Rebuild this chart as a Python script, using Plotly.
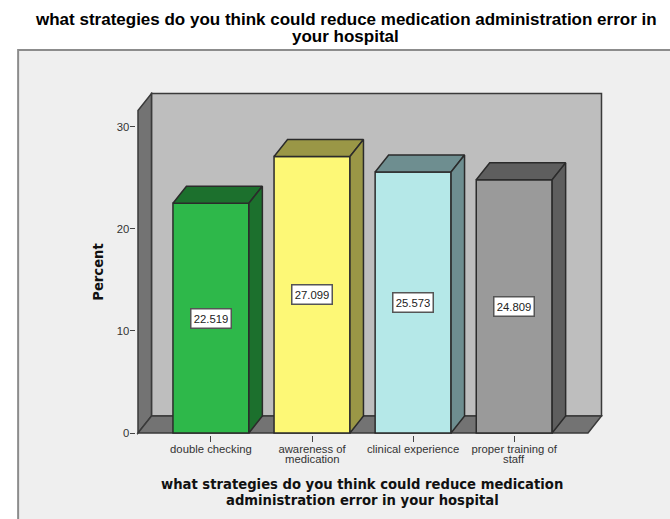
import plotly.graph_objects as go

# Chart data
categories = ["double checking", "awareness of", "clinical experience", "proper training of"]
category_second_lines = ["", "medication", "", "staff"]
percent = [22.519, 27.099, 25.573, 24.809]
y_ticks = [0, 10, 20, 30]

# Colours: bar front, bar side/top
front_colors = ["#2EB84A", "#FDF876", "#B5E8E8", "#9A9A9A"]
side_colors = ["#1C702D", "#9A9746", "#6E8E90", "#5E5E5E"]
EDGE = "#2B2B2B"
WALL_BACK = "#BEBEBE"
WALL_DARK = "#737373"
PANEL = "#EFEFEF"

W, H = 670, 519
# Plot area in pixels
LEFT, RIGHT, TOP, BOTTOM = 135.5, 603.0, 91.5, 435.0
# Scale of the axes
X0_PX, X_UNIT = 210.5, 101.2
Y0_PX, Y_UNIT = 433.0, 10.22
BAR_WIDTH = 0.751
# Oblique depth of the 3D projection, in axis units
DX, DY = 13.5 / X_UNIT, 17.0 / Y_UNIT
# Front-left and front-right floor corners, and height of the side wall
XL, XR = (137.5 - X0_PX) / X_UNIT, (588.0 - X0_PX) / X_UNIT
YTOP = (433.0 - 110.0) / Y_UNIT

def poly(points):
    return "M" + " L".join(f"{x:.4f},{y:.4f}" for x, y in points) + " Z"

def paper_x(px):
    return (px - LEFT) / (RIGHT - LEFT)

def paper_y(px):
    return (BOTTOM - px) / (BOTTOM - TOP)

fig = go.Figure()
xs = list(range(len(categories)))

# Front faces of the columns
fig.add_trace(go.Bar(
    x=xs, y=percent, width=BAR_WIDTH,
    marker=dict(color=front_colors, line=dict(color=EDGE, width=1.5)),
    hoverinfo="skip", showlegend=False,
))

# Top and side faces of the columns
for x, v, color in zip(xs, percent, side_colors):
    a, b = x - BAR_WIDTH / 2, x + BAR_WIDTH / 2
    fig.add_trace(go.Scatter(
        x=[a, b, b + DX, a + DX, a], y=[v, v, v + DY, v + DY, v],
        mode="lines", fill="toself", fillcolor=color,
        line=dict(color=EDGE, width=1.5), hoverinfo="skip", showlegend=False,
    ))
    fig.add_trace(go.Scatter(
        x=[b, b + DX, b + DX, b, b], y=[0, DY, v + DY, v, 0],
        mode="lines", fill="toself", fillcolor=color,
        line=dict(color=EDGE, width=1.5), hoverinfo="skip", showlegend=False,
    ))

wall_line = dict(color="#3A3A3A", width=1.5)
shapes = [
    # Grey panel behind the chart
    dict(type="rect", xref="paper", yref="paper", layer="below",
         x0=paper_x(17.5), x1=paper_x(700), y0=paper_y(540), y1=paper_y(49.5),
         fillcolor=PANEL, line=dict(color="#8C8C8C", width=2)),
    # Back wall, side wall and floor
    dict(type="path", layer="below", fillcolor=WALL_BACK, line=wall_line,
         path=poly([(XL + DX, DY), (XR + DX, DY), (XR + DX, YTOP + DY), (XL + DX, YTOP + DY)])),
    dict(type="path", layer="below", fillcolor=WALL_DARK, line=wall_line,
         path=poly([(XL, 0), (XL + DX, DY), (XL + DX, YTOP + DY), (XL, YTOP)])),
    dict(type="path", layer="below", fillcolor=WALL_DARK, line=wall_line,
         path=poly([(XL, 0), (XR, 0), (XR + DX, DY), (XL + DX, DY)])),
]

annotations = []

def add_text(px_x, px_y, text, **kwargs):
    annotations.append(dict(
        x=paper_x(px_x), xref="paper", y=paper_y(px_y), yref="paper", text=text,
        showarrow=False, xanchor="center", yanchor="middle", **kwargs,
    ))

# Value labels centred in each column
for x, v in zip(xs, percent):
    annotations.append(dict(
        x=x, y=v / 2, text=f"{v:.3f}", showarrow=False, bgcolor="#FFFFFF",
        xanchor="center", yanchor="middle", width=35, height=14, align="center",
        bordercolor="#555555", borderwidth=1.5, borderpad=2,
        font=dict(family="Liberation Sans", size=11.3, color="#222222"),
    ))
# Second lines of the wrapped category labels
for x, line in zip(xs, category_second_lines):
    if line:
        annotations.append(dict(
            x=x, xref="x", y=paper_y(459.5), yref="paper", text=line, showarrow=False,
            xanchor="center", yanchor="middle",
            font=dict(family="Liberation Sans", size=11.3, color="#333333"),
        ))
# Chart title
title_font = dict(family="Liberation Sans", size=17, color="#000000", weight="bold")
add_text(345.5, 19, "what strategies do you think could reduce medication administration error in", font=title_font)
add_text(345.5, 36, "your hospital", font=title_font)
# Axis titles
axis_font = dict(family="DejaVu Sans", size=13.2, color="#111111", weight="bold")
add_text(362, 485, "what strategies do you think could reduce medication", font=axis_font)
add_text(362, 501, "administration error in your hospital", font=axis_font)
add_text(98, 272, "Percent", textangle=-90, font=axis_font)

tick_font = dict(family="Liberation Sans", size=11.3, color="#333333")

fig.update_layout(
    template="none",
    width=W, height=H,
    margin=dict(l=LEFT, r=W - RIGHT, t=TOP, b=H - BOTTOM, pad=0),
    paper_bgcolor="#FFFFFF", plot_bgcolor="rgba(0,0,0,0)",
    shapes=shapes, annotations=annotations, showlegend=False, autosize=False,
    xaxis=dict(
        range=[(LEFT - X0_PX) / X_UNIT, (RIGHT - X0_PX) / X_UNIT],
        tickmode="array", tickvals=xs, ticktext=categories,
        ticks="outside", ticklen=6, tickwidth=1.2, tickcolor="#444444",
        ticklabelstandoff=-3, tickangle=0, tickfont=tick_font,
        showgrid=False, zeroline=False, showline=False,
    ),
    yaxis=dict(
        range=[(Y0_PX - BOTTOM) / Y_UNIT, (Y0_PX - TOP) / Y_UNIT],
        tickmode="array", tickvals=y_ticks,
        ticks="outside", ticklen=5.5, tickwidth=1.2, tickcolor="#444444",
        ticklabelstandoff=-2, tickfont=tick_font,
        showgrid=False, zeroline=False, showline=False,
    ),
)

fig.write_html("out.html")
